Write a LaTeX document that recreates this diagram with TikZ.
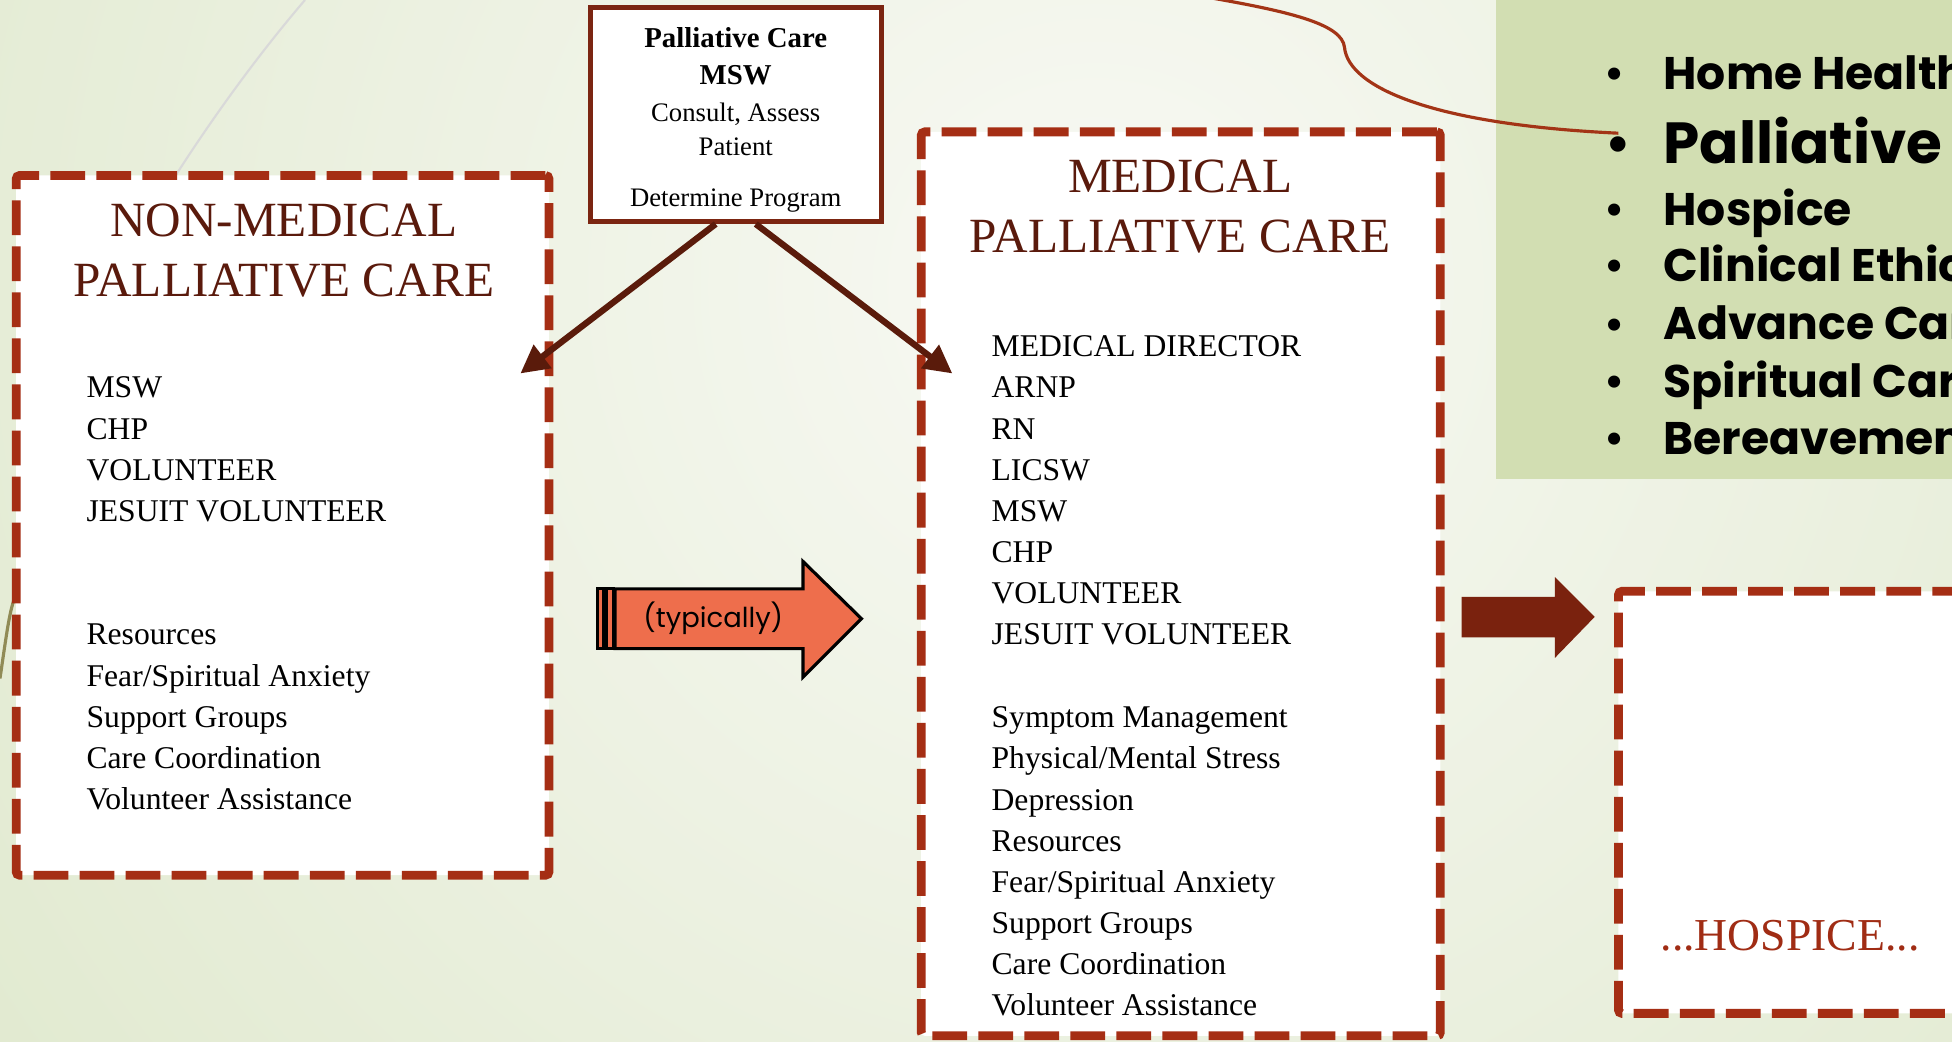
\documentclass[tikz,border=0pt]{standalone}
\usepackage{fontspec}
\setmainfont{Liberation Serif}
\newfontfamily\gothic{Poppins}
\usetikzlibrary{arrows.meta}

\definecolor{bggreen}{RGB}{224,233,206}
\definecolor{bglight}{RGB}{248,249,244}
\definecolor{panelgreen}{RGB}{210,222,178}
\definecolor{dashred}{RGB}{165,46,20}
\definecolor{titlebrown}{RGB}{90,26,12}
\definecolor{boxbrown}{RGB}{123,37,17}
\definecolor{arrowbrown}{RGB}{90,27,11}
\definecolor{darkarrow}{RGB}{122,34,14}
\definecolor{typorange}{RGB}{238,110,76}
\definecolor{curvered}{RGB}{163,52,22}
\definecolor{hospred}{RGB}{160,44,20}

\newcommand{\dotmark}{\raisebox{0.5pt}{\scalebox{0.88}{•}}}

\tikzset{
  dashbox/.style={draw=dashred, fill=white, line width=2.5pt, dash pattern=on 9.9pt off 3.2pt, rounded corners=1pt},
  titletext/.style={text=titlebrown, font=\fontsize{14}{17}\selectfont, align=center},
  listtext/.style={font=\fontsize{9}{11.7}\selectfont, align=left, anchor=west, inner sep=0pt},
  bulletitem/.style={font=\gothic\bfseries\fontsize{13}{16}\selectfont, anchor=base west, inner sep=0pt},
  linkarrow/.style={draw=arrowbrown, line width=1.8pt, -{Triangle[length=8pt,width=8pt]}},
  curvelink/.style={draw=curvered, line width=0.9pt}
}

\begin{document}
\begin{tikzpicture}[x=0.12449mm,y=-0.12449mm]
    \useasboundingbox (0,0) rectangle (1568,837);
    \clip (0,0) rectangle (1568,837);

    % background
    \fill[bggreen] (0,0) rectangle (1568,837);
    \shade[inner color=bglight, outer color=bggreen] (880,230) circle (1150);
    \draw[gray!30, line width=0.6pt] (245,0) .. controls (185,70) and (100,190) .. (40,330);
    \draw[gray!60!olive, line width=0.9pt] (16,468) .. controls (8,490) .. (0,545);

    % green panel with services
    \fill[panelgreen] (1202,0) rectangle (1568,385);
    \node[bulletitem] (homehealth) at (1288,72) {\makebox[16.9pt][l]{\dotmark}Home Health};
    \node[bulletitem, font=\gothic\bfseries\fontsize{16.5}{18}\selectfont] (palliative) at (1289,131) {\makebox[16.6pt][l]{\dotmark}Palliative};
    \node[bulletitem] (hospiceitem) at (1288,181) {\makebox[16.9pt][l]{\dotmark}Hospice};
    \node[bulletitem] (ethics) at (1288,226) {\makebox[16.9pt][l]{\dotmark}Clinical Ethics};
    \node[bulletitem] (advance) at (1288,273) {\makebox[16.9pt][l]{\dotmark}Advance Care};
    \node[bulletitem] (spiritual) at (1288,319) {\makebox[16.9pt][l]{\dotmark}Spiritual Care};
    \node[bulletitem] (bereave) at (1288,365) {\makebox[16.9pt][l]{\dotmark}Bereavement};

    % link to Palliative
    \coordinate (curvetop) at (971,-2);
    \coordinate (palend) at (1300,107);
    \draw[curvelink] (curvetop) .. controls (1040,10) and (1078,20) .. (1080,38)
        .. controls (1083,70) and (1150,100) .. (palend);

    % NON-MEDICAL box
    \node[dashbox, minimum width=151.6pt, minimum height=199.1pt] (nonmed) at (227,422) {};
    \node[titletext] (nonmedtitle) at (228,201) {NON-MEDICAL\\PALLIATIVE CARE};
    \node[listtext] (nonmedstaff) at (69,361) {MSW\\CHP\\VOLUNTEER\\JESUIT VOLUNTEER};
    \node[listtext] (nonmedneeds) at (69,576) {Resources\\Fear/Spiritual Anxiety\\Support Groups\\Care Coordination\\Volunteer Assistance};

    % MEDICAL box
    \node[dashbox, minimum width=147.7pt, minimum height=257.2pt] (medical) at (948.5,469) {};
    \node[titletext] (medtitle) at (948,166) {MEDICAL\\PALLIATIVE CARE};
    \node[listtext] (medstaff) at (796,394) {MEDICAL DIRECTOR\\ARNP\\RN\\LICSW\\MSW\\CHP\\VOLUNTEER\\JESUIT VOLUNTEER};
    \node[listtext] (medneeds) at (796,692) {Symptom Management\\Physical/Mental Stress\\Depression\\Resources\\Fear/Spiritual Anxiety\\Support Groups\\Care Coordination\\Volunteer Assistance};

    % HOSPICE box
    \node[dashbox, minimum width=113.3pt, minimum height=120.1pt] (hospice) at (1460,644.5) {};
    \node[text=hospred, font=\fontsize{13}{15}\selectfont] (hospicetext) at (1438,752) {...HOSPICE...};

    % Palliative Care MSW box
    \node[draw=boxbrown, line width=1.4pt, fill=white, minimum width=82.9pt, minimum height=60.9pt] (pcmsw) at (591,92) {};
    \node[font=\bfseries\fontsize{8.2}{10.6}\selectfont, align=center] (pcmswhead) at (591,45) {Palliative Care\\MSW};
    \node[font=\fontsize{7.6}{9.9}\selectfont, align=center] (pcmswtask) at (591,104) {Consult, Assess\\Patient};
    \node[font=\fontsize{7.6}{9.9}\selectfont] (pcmswprog) at (591,161) {Determine Program};

    % arrows to the two programs
    \coordinate (nonmedin) at (418,300);
    \coordinate (medin) at (765,300);
    \draw[linkarrow] ([xshift=-5.7pt]pcmsw.south) -- (nonmedin);
    \draw[linkarrow] ([xshift=5.7pt]pcmsw.south) -- (medin);

    % (typically) arrow
    \filldraw[fill=typorange, draw=black, line width=0.9pt] (494,473) -- (645,473) -- (645,451) -- (692,497) -- (645,544) -- (645,521) -- (494,521) -- cycle;
    \filldraw[fill=typorange, draw=black, line width=0.9pt] (480,473) rectangle (485,521);
    \filldraw[fill=typorange, draw=black, line width=0.9pt] (487,473) rectangle (492.5,521);
    \node[font=\gothic\fontsize{7.8}{10}\selectfont] (typical) at (573,497) {(typically)};

    % arrow to hospice
    \fill[darkarrow] (1174,479.5) -- (1249,479.5) -- (1249,463.5) -- (1281,495.5) -- (1249,528.5) -- (1249,512) -- (1174,512) -- cycle;
\end{tikzpicture}
\end{document}
